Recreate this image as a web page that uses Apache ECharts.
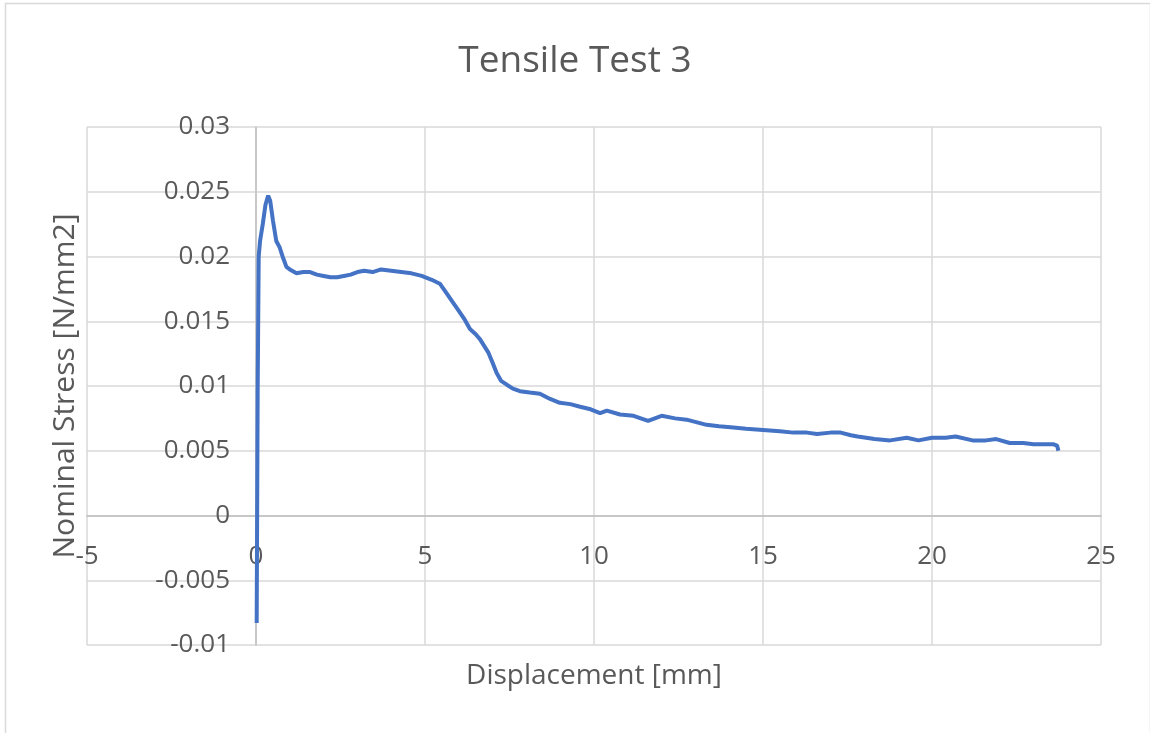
<!DOCTYPE html>
<html>
<head>
<meta charset="utf-8">
<script src="https://cdn.jsdelivr.net/npm/echarts@6/dist/echarts.min.js"></script>
<style>
html,body{margin:0;padding:0;background:#fff;}
#c{width:1150px;height:733px;}
</style>
</head>
<body>
<div id="c"></div>
<script>
// Displacement [mm]
const displacement = [0.02,0.05,0.08,0.12,0.2,0.28,0.36,0.42,0.5,0.6,0.7,0.8,0.9,1.0,1.2,1.4,1.6,1.8,2.0,2.2,2.4,2.6,2.8,3.0,3.2,3.45,3.7,4.0,4.3,4.6,4.9,5.2,5.44,5.6,5.84,6.0,6.18,6.33,6.5,6.63,6.87,7.0,7.12,7.25,7.42,7.6,7.81,8.1,8.4,8.7,8.99,9.3,9.59,9.9,10.18,10.38,10.77,11.17,11.6,12.0,12.4,12.74,13.33,13.7,14.12,14.5,15.0,15.5,15.9,16.3,16.6,17.0,17.3,17.6,17.8,18.3,18.76,19.25,19.6,20.0,20.4,20.7,21.2,21.6,21.9,22.3,22.7,23.0,23.3,23.6,23.7,23.74];
// Nominal Stress [N/mm2]
const stress = [-0.0083,0.0100,0.0200,0.0212,0.0225,0.0240,0.0247,0.0243,0.0228,0.0212,0.0207,0.0199,0.0192,0.0190,0.0187,0.0188,0.0188,0.0186,0.0185,0.0184,0.0184,0.0185,0.0186,0.0188,0.0189,0.0188,0.0190,0.0189,0.0188,0.0187,0.0185,0.0182,0.0179,0.0173,0.0164,0.0158,0.0151,0.0144,0.0140,0.0136,0.0126,0.0118,0.0110,0.0104,0.0101,0.0098,0.0096,0.0095,0.0094,0.0090,0.0087,0.0086,0.0084,0.0082,0.0079,0.0081,0.0078,0.0077,0.0073,0.0077,0.0075,0.0074,0.0070,0.0069,0.0068,0.0067,0.0066,0.0065,0.0064,0.0064,0.0063,0.0064,0.0064,0.0062,0.0061,0.0059,0.0058,0.0060,0.0058,0.0060,0.0060,0.0061,0.0058,0.0058,0.0059,0.0056,0.0056,0.0055,0.0055,0.0055,0.0054,0.0050];
const xTicks = {min:-5, max:25, interval:5};
const yTicks = {min:-0.01, max:0.03, interval:0.005};

const pts = displacement.map((x,i)=>[x, stress[i]]);
const font = '"Open Sans", "Noto Sans", sans-serif';
const txt = '#595959';
const grid = '#d9d9d9';

// plot area geometry
const G = {left:87, top:127, right:49, bottom:88};
const plotW = 1150 - G.left - G.right;
const plotH = 733 - G.top - G.bottom;
// shift axes so they cross at zero
const yAxisOffset = -plotW * (0 - xTicks.min) / (xTicks.max - xTicks.min);
const xAxisOffset = -plotH * (0 - yTicks.min) / (yTicks.max - yTicks.min);

const chart = echarts.init(document.getElementById('c'), null, {renderer:'canvas'});
chart.setOption({
  backgroundColor:'#ffffff',
  animation:false,
  title:{
    text:'Tensile Test 3',
    left:'center', top:38,
    textStyle:{fontFamily:font, fontSize:37, fontWeight:'normal', color:txt}
  },
  grid:{left:G.left, top:G.top, right:G.right, bottom:G.bottom, containLabel:false, outerBoundsMode:'none'},
  xAxis:{
    type:'value', min:xTicks.min, max:xTicks.max, interval:xTicks.interval,
    position:'bottom', offset:xAxisOffset,
    name:'Displacement [mm]', nameLocation:'middle', nameGap:147,
    nameTextStyle:{fontFamily:font, fontSize:28, color:txt},
    axisLine:{show:true, onZero:false, lineStyle:{color:'#bfbfbf', width:1.5}},
    axisTick:{show:false},
    axisLabel:{fontFamily:font, fontSize:26, color:txt, margin:28},
    splitLine:{show:true, lineStyle:{color:grid, width:1.5}}
  },
  yAxis:{
    type:'value', min:yTicks.min, max:yTicks.max, interval:yTicks.interval,
    position:'left', offset:yAxisOffset,
    name:'Nominal Stress [N/mm2]', nameLocation:'middle', nameGap:176,
    nameTextStyle:{fontFamily:font, fontSize:30, color:txt},
    axisLine:{show:true, onZero:false, lineStyle:{color:'#bfbfbf', width:1.5}},
    axisTick:{show:false},
    axisLabel:{fontFamily:font, fontSize:26, color:txt, margin:26},
    splitLine:{show:true, lineStyle:{color:grid, width:1.5}}
  },
  graphic:[{
    type:'rect', left:3, top:1, silent:true,
    shape:{x:0,y:0,width:1145,height:731},
    style:{fill:'none', stroke:'#d9d9d9', lineWidth:1.5}
  }],
  series:[{
    type:'line', data:pts, showSymbol:false, smooth:false,
    lineStyle:{color:'#4472C4', width:4},
    itemStyle:{color:'#4472C4'}
  }]
});
</script>
</body>
</html>
